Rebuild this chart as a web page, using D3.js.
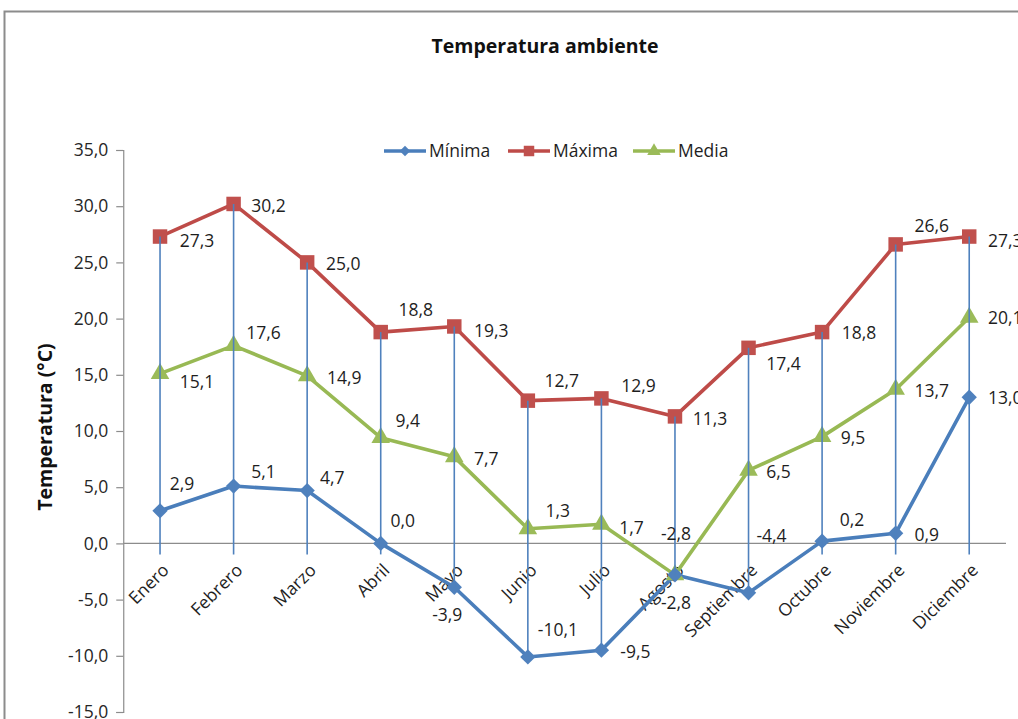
<!DOCTYPE html>
<html>
<head>
<meta charset="utf-8">
<script src="https://cdn.jsdelivr.net/npm/d3@7/dist/d3.min.js"></script>
<style>
  html, body { margin: 0; padding: 0; background: #fff; }
  svg { display: block; }
  text { font-family: "Open Sans", "Liberation Sans", sans-serif; fill: #1e1e1e; }
</style>
</head>
<body>
<svg id="chart" width="1018" height="719"></svg>
<script>
// Monthly ambient temperature (°C)
const months = ["Enero", "Febrero", "Marzo", "Abril", "Mayo", "Junio", "Julio",
                "Agosto", "Septiembre", "Octubre", "Noviembre", "Diciembre"];
const minima = [2.9, 5.1, 4.7, 0.0, -3.9, -10.1, -9.5, -2.8, -4.4, 0.2, 0.9, 13.0];
const maxima = [27.3, 30.2, 25.0, 18.8, 19.3, 12.7, 12.9, 11.3, 17.4, 18.8, 26.6, 27.3];
const media  = [15.1, 17.6, 14.9, 9.4, 7.7, 1.3, 1.7, -2.8, 6.5, 9.5, 13.7, 20.1];
const yTicks = [-15, -10, -5, 0, 5, 10, 15, 20, 25, 30, 35];

// Label placement relative to each marker (centre of text), in px
const minLabelPos = [[22,-27],[30,-14],[25,-13],[22,-23],[-7,28],[30,-27],[34,2],[1,-41],[23,-57],[30,-21],[31,2],[36,1]];
const maxLabelPos = [[37,4],[35,2],[36,1],[35,-22],[37,4],[34,-20],[37,-13],[35,2],[35,16],[37,1],[36,-19],[36,4]];
const medLabelPos = [[37,8],[30,-13],[37,2],[27,-17],[32,2],[30,-18],[30,4],[1,28],[30,2],[31,1],[36,1],[36,0]];

const locale = d3.formatLocale({decimal: ",", thousands: ".", grouping: [3], currency: ["", "€"], minus: "-"});
const fmt = locale.format(".1f");

const svg = d3.select("#chart");

// Outer frame
svg.append("path")
  .attr("d", "M4.5,719 V11.5 H1018")
  .attr("fill", "none").attr("stroke", "#8c8c8c").attr("stroke-width", 2);

const plot = {left: 123.25, right: 1006, top: 150, bottom: 712};

const x = d3.scaleBand().domain(months).range([plot.left, plot.right]).paddingInner(0).paddingOuter(0);
const cx = m => x(m) + x.bandwidth() / 2;
const y = d3.scaleLinear().domain([-15, 35]).range([plot.bottom, plot.top]);

// Title
svg.append("text")
  .attr("x", 545).attr("y", 53)
  .attr("text-anchor", "middle")
  .attr("font-weight", "bold").attr("font-size", 19.5)
  .style("fill", "#111")
  .text("Temperatura ambiente");

// Y axis
const yAxis = svg.append("g")
  .attr("transform", `translate(${plot.left},0)`)
  .call(d3.axisLeft(y).tickValues(yTicks).tickFormat(fmt).tickSize(7).tickPadding(8));
yAxis.select(".domain").attr("stroke", "#8c8c8c").attr("stroke-width", 1.2);
yAxis.selectAll(".tick line").attr("stroke", "#8c8c8c").attr("stroke-width", 1.2);
yAxis.selectAll(".tick text").attr("font-size", 17.5).style("font-family", "'Open Sans', sans-serif").style("fill", "#262626");

// Axis title
svg.append("text")
  .attr("transform", `translate(52,${(plot.top + plot.bottom) / 2 - 4}) rotate(-90)`)
  .attr("text-anchor", "middle")
  .attr("font-weight", "bold").attr("font-size", 19.5)
  .style("fill", "#111")
  .text("Temperatura (°C)");

// Category axis at zero
svg.append("line")
  .attr("x1", plot.left).attr("x2", plot.right)
  .attr("y1", y(0)).attr("y2", y(0))
  .attr("stroke", "#8c8c8c").attr("stroke-width", 1.2);

svg.append("g").selectAll("text").data(months).join("text")
  .attr("transform", m => `translate(${cx(m) + 10},${y(0) + 28}) rotate(-45)`)
  .attr("text-anchor", "end")
  .attr("font-size", 17.5)
  .text(m => m);

const colors = {min: "#4A7EBB", max: "#BE4B48", med: "#98B954"};
const markerFill = {min: "#4F81BD", max: "#C0504D", med: "#9BBB59"};

const line = d3.line().x((d, i) => cx(months[i])).y(d => y(d));

function drawSeries(values, key) {
  svg.append("path")
    .datum(values)
    .attr("d", line)
    .attr("fill", "none")
    .attr("stroke", colors[key])
    .attr("stroke-width", 3.6)
    .attr("stroke-linejoin", "round");
}
drawSeries(media, "med");
drawSeries(maxima, "max");
drawSeries(minima, "min");

const sym = {
  min: d3.symbol().type(d3.symbolDiamond2).size(150),
  max: d3.symbol().type(d3.symbolSquare).size(210),
  med: d3.symbol().type(d3.symbolTriangle).size(150)
};

function drawMarkers(values, key) {
  svg.append("g").selectAll("path").data(values).join("path")
    .attr("transform", (d, i) => `translate(${cx(months[i])},${y(d)})`)
    .attr("d", sym[key])
    .attr("fill", markerFill[key]);
}
drawMarkers(media, "med");
drawMarkers(maxima, "max");
drawMarkers(minima, "min");

// High-low lines from the maximum down past the lower of minimum and the axis
svg.append("g").selectAll("line").data(months).join("line")
  .attr("x1", m => cx(m)).attr("x2", m => cx(m))
  .attr("y1", (m, i) => y(maxima[i]))
  .attr("y2", (m, i) => minima[i] < 0 ? y(minima[i]) : y(0) + 11)
  .attr("stroke", "#4F81BD").attr("stroke-width", 1.6);

// Data labels
function drawLabels(values, pos) {
  svg.append("g").selectAll("text").data(values).join("text")
    .attr("x", (d, i) => cx(months[i]) + pos[i][0])
    .attr("y", (d, i) => y(d) + pos[i][1])
    .attr("dy", "0.35em")
    .attr("text-anchor", "middle")
    .attr("font-size", 17.5)
    .text(d => fmt(d));
}
drawLabels(maxima, maxLabelPos);
drawLabels(media, medLabelPos);
drawLabels(minima, minLabelPos);

// Legend
const legendItems = [
  {name: "Mínima", key: "min", x: 384},
  {name: "Máxima", key: "max", x: 508},
  {name: "Media",  key: "med", x: 633}
];
const legendSym = {
  min: d3.symbol().type(d3.symbolDiamond2).size(70),
  max: d3.symbol().type(d3.symbolSquare).size(110),
  med: d3.symbol().type(d3.symbolTriangle).size(80)
};
const lg = svg.append("g").selectAll("g").data(legendItems).join("g")
  .attr("transform", d => `translate(${d.x},151)`);
lg.append("line").attr("x1", 0).attr("x2", 42).attr("y1", 0).attr("y2", 0)
  .attr("stroke", d => colors[d.key]).attr("stroke-width", 3.6);
lg.append("path").attr("transform", "translate(21,0)")
  .attr("d", d => legendSym[d.key]())
  .attr("fill", d => markerFill[d.key]);
lg.append("text").attr("x", 45).attr("dy", "0.35em")
  .attr("font-size", 17.5)
  .text(d => d.name);
</script>
</body>
</html>
